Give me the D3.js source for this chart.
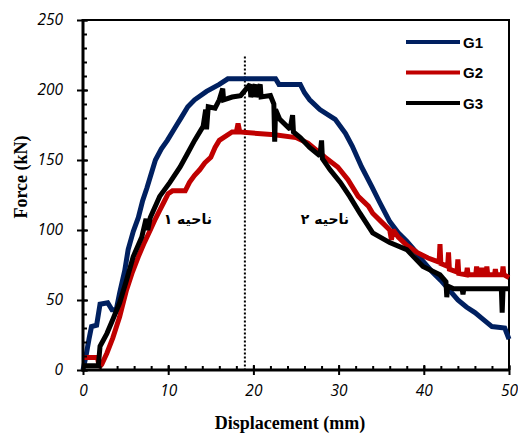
<!DOCTYPE html>
<html><head><meta charset="utf-8">
<script src="https://cdn.jsdelivr.net/npm/d3@7"></script>
<style>body{margin:0;background:#fff}</style>
</head><body>
<svg id="c" width="518" height="435"></svg>
<script>
const xTicks = [0,10,20,30,40,50];
const yTicks = [0,50,100,150,200,250];
const seriesNames = ["G1","G2","G3"];
const seriesColors = ["#002060","#C00000","#000000"];
const regionLabels = ["ناحیه ۱","ناحیه ۲"];
const regionLabelPos = [[12.3,108],[28.4,108]];
const dividerX = 19;
const dividerTop = 224;

const g1 = [[0,0],[0.35,10],[0.7,22],[1.0,31],[1.6,32],[2.0,47],[2.9,48],[3.4,43],[3.9,43],[4.3,55],[4.9,71],[5.3,86],[5.9,99],[6.5,109],[7.0,121],[7.5,130],[7.9,138],[8.5,150],[9.2,158],[9.9,164],[10.8,173],[11.6,181],[12.3,188],[13.1,193],[14.5,199],[16,204],[17,208],[22.6,208],[23,204],[25.5,204],[26,198],[26.6,193],[27.8,186],[29.6,179],[30.8,169],[31.6,160],[32.7,145],[33.9,131],[34.8,120],[36,106],[37,98],[38,92],[39,85],[40,77],[41,70],[42,64],[43,57],[44,50],[45,45],[46,41],[47,36],[48,31],[49.5,30],[50,22]];

const g2 = [[0,9],[1.7,9],[1.9,2],[2.2,4],[2.8,12],[3.5,23],[4.3,38],[5.1,57],[5.8,70],[6.5,81],[7.2,91],[7.9,100],[8.5,108],[9,114],[9.5,120],[10,126],[10.5,128],[12,128],[12.5,134],[13.1,139],[13.7,143],[14.3,148],[15,152],[15.5,159],[16,164],[17.5,170],[18,170],[18.2,176],[18.4,170],[22.5,168],[25,166],[26.4,162],[27.4,157],[28.4,152],[29.9,145],[31.1,136],[32.3,124],[33.5,117],[34,112],[35,106],[36,100],[36.2,93],[36.4,100],[37,95],[38,89],[39.2,84],[40.5,80],[41.8,77],[41.9,90],[42.0,76],[42.8,74],[42.9,84],[43.0,72],[43.9,70],[44.0,79],[44.1,69],[45.0,68],[45.1,73],[45.2,68],[46.1,68],[46.2,74],[46.3,68],[46.7,68],[46.8,73],[46.9,68],[47.3,68],[47.4,74],[47.5,68],[48.3,68],[48.4,72],[48.5,68],[49.2,68],[49.3,74],[49.4,68],[50,66]];

const g3 = [[0,3],[1.8,3],[2.0,17],[2.8,26],[3.5,36],[4.3,48],[5.1,64],[5.9,81],[6.9,95],[7.4,108],[7.6,100],[7.9,109],[9,124],[10.2,134],[11.4,145],[12.3,155],[13.1,164],[14.1,174],[14.4,186],[14.5,172],[14.7,188],[15.5,187],[16.0,193],[16.4,201],[16.5,193],[17.5,195],[18.5,196],[19.6,204],[19.7,195],[20.2,204],[20.3,195],[20.8,204],[20.9,195],[22.0,196],[22.4,190],[22.5,163],[22.6,186],[23.1,179],[24.3,172],[24.6,182],[24.7,170],[25.5,166],[26.6,159],[27.8,153],[28.0,164],[28.1,151],[29,143],[30.2,134],[31.3,124],[32.5,112],[34,98],[36,91],[38,86],[39.9,74],[41.9,68],[42.6,63],[42.7,52],[42.8,60],[43.5,58],[44.5,58],[44.6,54],[44.7,58],[46,58],[47,58],[48,58],[49.1,58],[49.2,41],[49.3,58],[50,58]];

const seriesData = [g1,g2,g3];

const svg = d3.select("#c");
const L=83, R=509, T=20, B=370;
const x = d3.scaleLinear().domain([0,50]).range([L,R]);
const y = d3.scaleLinear().domain([0,250]).range([B,T]);

// frame top/right
svg.append("path").attr("d",`M${L},${T}H${R}V${B}`).attr("fill","none").attr("stroke","#000").attr("stroke-width",2);

// divider
svg.append("line").attr("x1",x(dividerX)).attr("x2",x(dividerX)).attr("y1",y(dividerTop)).attr("y2",y(0))
  .attr("stroke","#000").attr("stroke-width",2).attr("stroke-dasharray","2,2");

// series
const line = d3.line().x(d=>x(d[0])).y(d=>y(d[1]));
seriesData.forEach((s,i)=>{
  svg.append("path").datum(s).attr("d",line).attr("fill","none")
    .attr("stroke",seriesColors[i]).attr("stroke-width",5).attr("stroke-linejoin","miter").attr("stroke-miterlimit",2);
});

// axes
const tickFont = "'Open Sans', sans-serif";
function style(g){ g.select(".domain").remove(); g.selectAll("line").attr("stroke","#000").attr("stroke-width",2); }
svg.append("g").attr("transform",`translate(${L},0)`).call(d3.axisLeft(y).tickValues(d3.range(0,251,10)).tickSize(-4).tickFormat("")).call(style);
svg.append("g").attr("transform",`translate(${L},0)`).call(d3.axisLeft(y).tickValues(yTicks).tickSize(-5).tickFormat("")).call(style);
const ya = svg.append("g").attr("transform",`translate(${L},0)`).call(d3.axisLeft(y).tickValues(yTicks).tickSize(6).tickPadding(14)).call(style);
ya.selectAll("text").attr("font-family",tickFont).attr("font-style","italic").attr("font-size","15.5px").attr("fill","#000");
svg.append("g").attr("transform",`translate(0,${B})`).call(d3.axisBottom(x).tickValues(d3.range(0,51,2)).tickSize(-4).tickFormat("")).call(style);
svg.append("g").attr("transform",`translate(0,${B})`).call(d3.axisBottom(x).tickValues(xTicks).tickSize(-5).tickFormat("")).call(style);
const xa = svg.append("g").attr("transform",`translate(0,${B})`).call(d3.axisBottom(x).tickValues(xTicks).tickSize(5).tickPadding(10)).call(style);
xa.selectAll("text").attr("font-family",tickFont).attr("font-style","italic").attr("font-size","15.5px").attr("fill","#000");
svg.append("line").attr("x1",L).attr("x2",L).attr("y1",T-1).attr("y2",B+1.5).attr("stroke","#000").attr("stroke-width",3);
svg.append("line").attr("x1",L-1.5).attr("x2",R+1).attr("y1",B).attr("y2",B).attr("stroke","#000").attr("stroke-width",3);

// axis titles
svg.append("text").attr("x",(L+R)/2-6).attr("y",429).attr("text-anchor","middle")
  .attr("font-family","'Liberation Serif', serif").attr("font-weight","bold").attr("font-size","18px").text("Displacement (mm)");
svg.append("text").attr("transform",`translate(27,177) rotate(-90)`).attr("text-anchor","middle")
  .attr("font-family","'Liberation Serif', serif").attr("font-weight","bold").attr("font-size","18px").text("Force (kN)");

// legend
seriesNames.forEach((n,i)=>{
  const ly = 42 + i*30.5;
  svg.append("line").attr("x1",406).attr("x2",460).attr("y1",ly).attr("y2",ly).attr("stroke",seriesColors[i]).attr("stroke-width",4);
  svg.append("text").attr("x",463).attr("y",ly+5.5).attr("font-family","'Liberation Sans', Arial, sans-serif")
    .attr("font-weight","bold").attr("font-size","15px").text(n);
});

// region labels
regionLabels.forEach((t,i)=>{
  svg.append("text").attr("x",x(regionLabelPos[i][0])).attr("y",y(regionLabelPos[i][1])+5).attr("text-anchor","middle")
    .attr("direction","rtl").attr("font-family","'DejaVu Sans', 'Noto Sans', sans-serif").attr("font-weight","bold").attr("font-size","14px").text(t);
});
</script>
</body></html>
